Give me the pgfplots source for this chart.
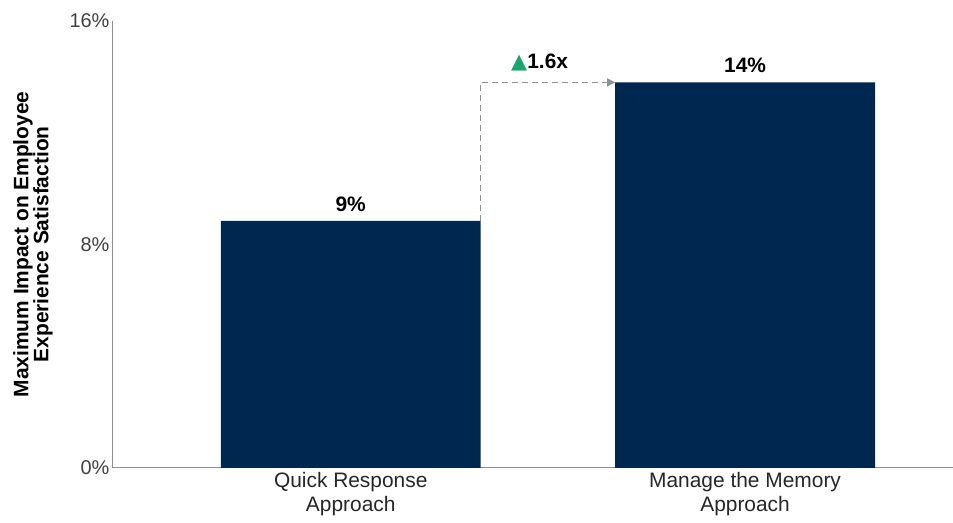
\documentclass[border=0pt]{standalone}
\usepackage{pgfplots}
\pgfplotsset{compat=1.18}
\usepackage{fontspec}
\setmainfont{Liberation Sans}
\newfontfamily\dejavu{DejaVu Sans}
\usetikzlibrary{calc,arrows.meta}
\definecolor{navy}{HTML}{00274F}
\definecolor{tgreen}{HTML}{1BA56E}
\definecolor{agray}{HTML}{8A9292}
\begin{document}
\begin{tikzpicture}
\begin{axis}[
  scale only axis, width=840bp, height=447bp,
  xmin=-0.603, xmax=1.526, ymin=0, ymax=16,
  axis x line*=bottom, axis y line*=left,
  axis line style={draw=agray, line width=1pt, -},
  ytick={0,8,16}, yticklabels={0\%,8\%,16\%},
  xtick={0,1}, xticklabels={Quick Response\\Approach, Manage the Memory\\Approach},
  xticklabel style={align=center, font=\fontsize{21}{24}\selectfont, yshift=-1bp, color=black!85},
  yticklabel style={font=\fontsize{20}{22}\selectfont, color=black!75},
  major tick length=0pt,
  ylabel={Maximum Impact on Employee\\Experience Satisfaction},
  ylabel style={align=center, font=\bfseries\fontsize{21}{20}\selectfont, at={(axis description cs:0,0.5)}, anchor=center, yshift=80bp},
  ybar, bar width=0.659,
  nodes near coords, point meta=explicit symbolic,
  nodes near coords style={font=\bfseries\fontsize{21}{22}\selectfont, yshift=6bp},
  clip=false,
]
\addplot[fill=navy, draw=none] table[meta=label] {
x y label
0 8.84 9\%
1 13.80 14\%
};
\draw[agray, dashed, line width=1.4pt, dash pattern=on 6bp off 4bp, -{Triangle[length=8bp,width=8bp]}]
  (axis cs:0.3295,8.84) -- (axis cs:0.3295,13.8) -- (axis cs:0.6705,13.8);
\node[font=\bfseries\fontsize{21}{22}\selectfont] at (axis cs:0.479,14.52) {{\dejavu\color{tgreen}\fontsize{21}{22}\selectfont▲}1.6x};
\end{axis}
\path ($(current axis.south west)+(-113bp,-55bp)$) rectangle ($(current axis.north east)+(0bp,21bp)$);
\end{tikzpicture}
\end{document}
